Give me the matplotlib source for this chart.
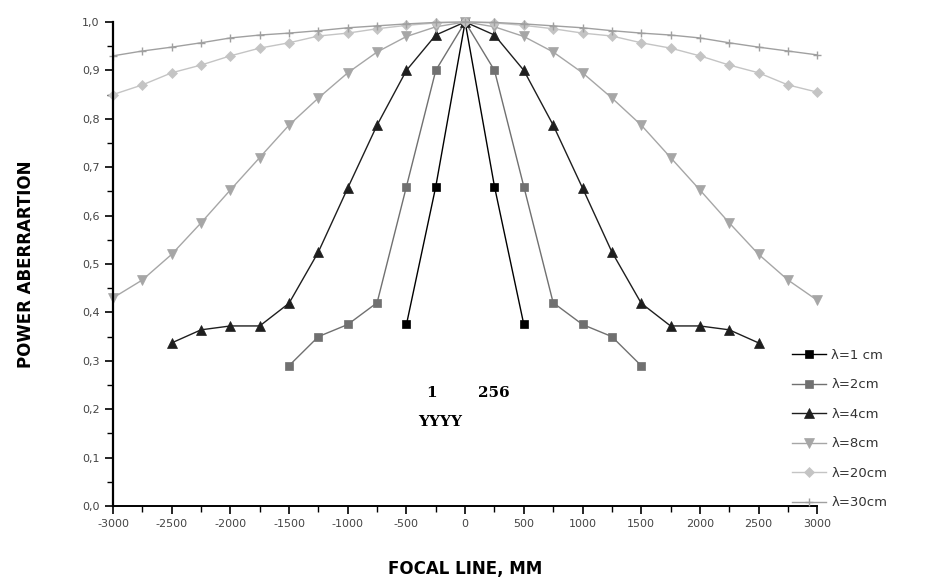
import matplotlib
matplotlib.use("Agg")
import matplotlib.pyplot as plt
from matplotlib.ticker import MultipleLocator, FuncFormatter

# Data (focal line positions in mm, power aberration)
x_1cm = [-500, -250, 0, 250, 500]
y_1cm = [0.375, 0.66, 1.0, 0.66, 0.375]

x_2cm = [-1500, -1250, -1000, -750, -500, -250, 0, 250, 500, 750, 1000, 1250, 1500]
y_2cm = [0.29, 0.35, 0.375, 0.42, 0.66, 0.90, 1.0, 0.90, 0.66, 0.42, 0.375, 0.35, 0.29]

x_4cm = [-2500, -2250, -2000, -1750, -1500, -1250, -1000, -750, -500, -250, 0,
         250, 500, 750, 1000, 1250, 1500, 1750, 2000, 2250, 2500]
y_4cm = [0.337, 0.364, 0.372, 0.372, 0.419, 0.525, 0.657, 0.787, 0.90, 0.973, 1.0,
         0.973, 0.90, 0.787, 0.657, 0.525, 0.419, 0.372, 0.372, 0.364, 0.337]

x_8cm = [-3000, -2750, -2500, -2250, -2000, -1750, -1500, -1250, -1000, -750, -500, -250, 0,
         250, 500, 750, 1000, 1250, 1500, 1750, 2000, 2250, 2500, 2750, 3000]
y_8cm = [0.43, 0.467, 0.52, 0.585, 0.653, 0.72, 0.787, 0.843, 0.895, 0.938, 0.97, 0.99, 1.0,
         0.99, 0.97, 0.938, 0.895, 0.843, 0.787, 0.72, 0.653, 0.585, 0.52, 0.467, 0.425]

x_20cm = x_8cm
y_20cm = [0.85, 0.87, 0.895, 0.911, 0.93, 0.946, 0.957, 0.971, 0.977, 0.986, 0.993, 0.998, 1.0,
          0.998, 0.993, 0.986, 0.977, 0.971, 0.957, 0.946, 0.93, 0.911, 0.895, 0.87, 0.855]

x_30cm = x_8cm
y_30cm = [0.93, 0.94, 0.948, 0.957, 0.967, 0.973, 0.977, 0.982, 0.988, 0.992, 0.996, 0.999, 1.0,
          0.999, 0.996, 0.992, 0.988, 0.982, 0.977, 0.973, 0.967, 0.957, 0.948, 0.94, 0.932]

labels = ["λ=1 cm", "λ=2cm", "λ=4cm", "λ=8cm", "λ=20cm", "λ=30cm"]

fig = plt.figure(figsize=(9.34, 5.86), dpi=100)
ax = fig.add_axes([0.121, 0.1365, 0.754, 0.826])

series = [
    (x_1cm, y_1cm, "#000000", "s", 5.5),
    (x_2cm, y_2cm, "#707070", "s", 5.5),
    (x_4cm, y_4cm, "#1e1e1e", "^", 7),
    (x_8cm, y_8cm, "#a6a6a6", "v", 7),
    (x_20cm, y_20cm, "#c4c4c4", "D", 5),
    (x_30cm, y_30cm, "#a0a0a0", "+", 6),
]
handles = []
for (xs, ys, c, m, ms), lab in zip(series, labels):
    h, = ax.plot(xs, ys, color=c, marker=m, markersize=ms, linewidth=1.0,
                 markeredgewidth=1.0 if m == "+" else 0.5, label=lab, clip_on=False)
    handles.append(h)

ax.set_xlim(-3000, 3000)
ax.set_ylim(0.0, 1.0)
ax.spines["top"].set_visible(False)
ax.spines["right"].set_visible(False)
ax.spines["left"].set_linewidth(1.6)
ax.spines["bottom"].set_linewidth(1.4)

ax.xaxis.set_major_locator(MultipleLocator(500))
ax.xaxis.set_minor_locator(MultipleLocator(250))
ax.yaxis.set_major_locator(MultipleLocator(0.1))
ax.yaxis.set_minor_locator(MultipleLocator(0.05))
ax.yaxis.set_major_formatter(FuncFormatter(lambda v, p: f"{v:.1f}".replace(".", ",")))
ax.xaxis.set_major_formatter(FuncFormatter(lambda v, p: f"{int(round(v))}"))
ax.tick_params(axis="both", which="major", direction="out", length=6, width=1.2,
               labelsize=8, labelcolor="#444444")
ax.tick_params(axis="both", which="minor", direction="out", length=4, width=1.0)

ax.set_xlabel("FOCAL LINE, MM", fontsize=12, fontweight="bold", labelpad=22)
ax.set_ylabel("POWER ABERRARTION", fontsize=12, fontweight="bold", labelpad=34)

ax.text(-330, 0.225, "1", fontsize=11, fontweight="bold", family="DejaVu Serif")
ax.text(110, 0.225, "256", fontsize=11, fontweight="bold", family="DejaVu Serif")
ax.text(-400, 0.165, "YYYY", fontsize=11, fontweight="bold", family="DejaVu Serif")

fig.legend(handles=handles, labels=labels, loc="upper left",
           bbox_to_anchor=(0.835, 0.425), frameon=False, fontsize=9.5,
           labelspacing=1.25, handlelength=2.6, handletextpad=0.4,
           labelcolor="#333333")

fig.savefig("out.png", dpi=100)
